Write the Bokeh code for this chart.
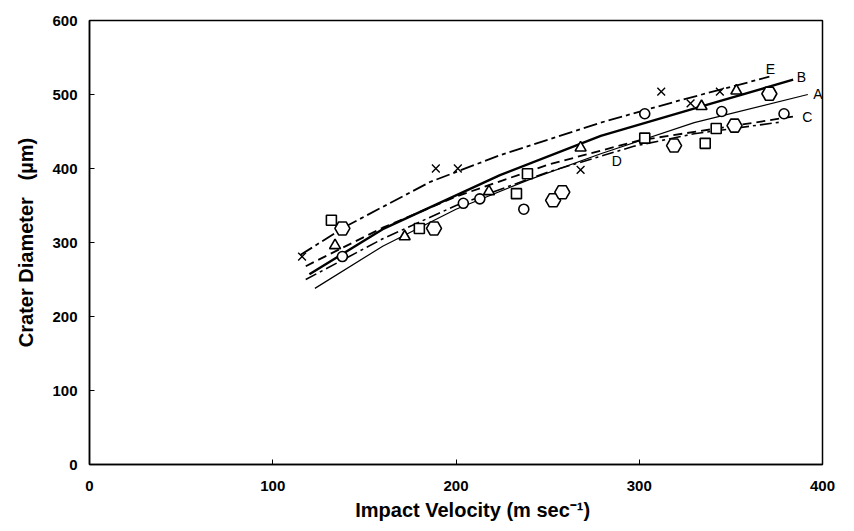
from bokeh.plotting import figure
from bokeh.models import Range1d, FixedTicker, ColumnDataSource
from bokeh.embed import file_html
from bokeh.resources import INLINE
from bokeh.core.properties import value

# ---- data ----
circle_v = [138, 204, 213, 237, 303, 345, 379]
circle_d = [281, 353, 359, 345, 474, 477, 474]
hex_v = [138, 188, 253, 258, 319, 352, 371]
hex_d = [319, 319, 357, 368, 431, 458, 501]
tri_v = [134, 172, 218, 268, 334, 353]
tri_d = [296, 308, 369, 428, 484, 505]
sq_v = [132, 180, 233, 239, 303, 336, 342]
sq_d = [330, 319, 366, 393, 441, 434, 454]
x_v = [116, 189, 201, 268, 312, 328, 344]
x_d = [281, 400, 400, 398, 504, 488, 504]

A_v = [123, 160, 200, 240, 279, 330, 392]
A_d = [238, 295, 345, 385, 420, 462, 500]
B_v = [120, 160, 224, 279, 334, 384]
B_d = [257, 318, 391, 444, 484, 520]
C_v = [118, 160, 200, 250, 300, 342, 386]
C_d = [268, 320, 362, 405, 438, 454, 471]
D_v = [118, 160, 200, 250, 297, 330, 378]
D_d = [250, 305, 350, 395, 430, 447, 463]
E_v = [115, 140, 186, 224, 279, 322, 371]
E_d = [283, 322, 382, 418, 462, 492, 524]

curve_names = ["A", "B", "C", "D", "E"]
label_v = [395, 386, 389, 285, 369]
label_d = [501, 523, 470, 410, 534]

x_ticks = [0, 100, 200, 300, 400]
y_ticks = [0, 100, 200, 300, 400, 500, 600]

FONT = "Liberation Sans"
NB = "\u00a0"

p = figure(width=838, height=523, output_backend="svg", toolbar_location=None,
           x_range=Range1d(0, 400), y_range=Range1d(0, 600),
           min_border_left=89, min_border_right=16, min_border_top=20, min_border_bottom=58)
p.grid.visible = False
p.outline_line_color = "black"
p.outline_line_width = 1.5

for ax in (p.xaxis[0], p.yaxis[0]):
    ax.axis_line_width = 1.5
    ax.major_tick_in = 5
    ax.major_tick_out = 0
    ax.minor_tick_line_color = None
    ax.major_label_text_font = FONT
    ax.major_label_text_font_style = "bold"
    ax.major_label_text_font_size = "15px"
    ax.axis_label_text_font = FONT
    ax.axis_label_text_font_style = "bold"
    ax.axis_label_text_font_size = "20px"
    ax.major_label_text_color = "black"
    ax.axis_label_text_color = "black"

p.xaxis.ticker = FixedTicker(ticks=x_ticks)
p.yaxis.ticker = FixedTicker(ticks=y_ticks)
p.xaxis.axis_label = NB * 6 + "Impact Velocity (m sec\u207b\u00b9)"
p.yaxis.axis_label = "Crater Diameter" + NB * 3 + "(\u00b5m)"
p.xaxis.axis_label_standoff = 5
p.yaxis.axis_label_standoff = 12
p.xaxis.major_label_standoff = 16
p.yaxis.major_label_standoff = 12

# curves
p.line(A_v, A_d, line_color="black", line_width=1.2)
p.line(B_v, B_d, line_color="black", line_width=2.4)
p.line(C_v, C_d, line_color="black", line_width=1.8, line_dash="9 5")
p.line(D_v, D_d, line_color="black", line_width=1.6, line_dash="12 4 3 4")
p.line(E_v, E_d, line_color="black", line_width=1.8, line_dash="14 4 4 4")

# markers
p.scatter(circle_v, circle_d, marker="circle", size=10, fill_color="white", line_color="black", line_width=1.6)
p.scatter(hex_v, hex_d, marker="hex", size=15, fill_color="white", line_color="black", line_width=1.6)
p.scatter(tri_v, tri_d, marker="triangle", size=11, fill_color="white", line_color="black", line_width=1.6)
p.scatter(sq_v, sq_d, marker="square", size=10, fill_color="white", line_color="black", line_width=1.6)
p.scatter(x_v, x_d, marker="x", size=11, line_color="black", line_width=1.4)

src = ColumnDataSource(dict(x=label_v, y=label_d, t=curve_names))
p.text(x="x", y="y", text="t", source=src, text_font=value(FONT), text_font_size="14px",
       text_align="left", text_baseline="middle", text_color="black")

open("out.html", "w").write(file_html(p, INLINE))
